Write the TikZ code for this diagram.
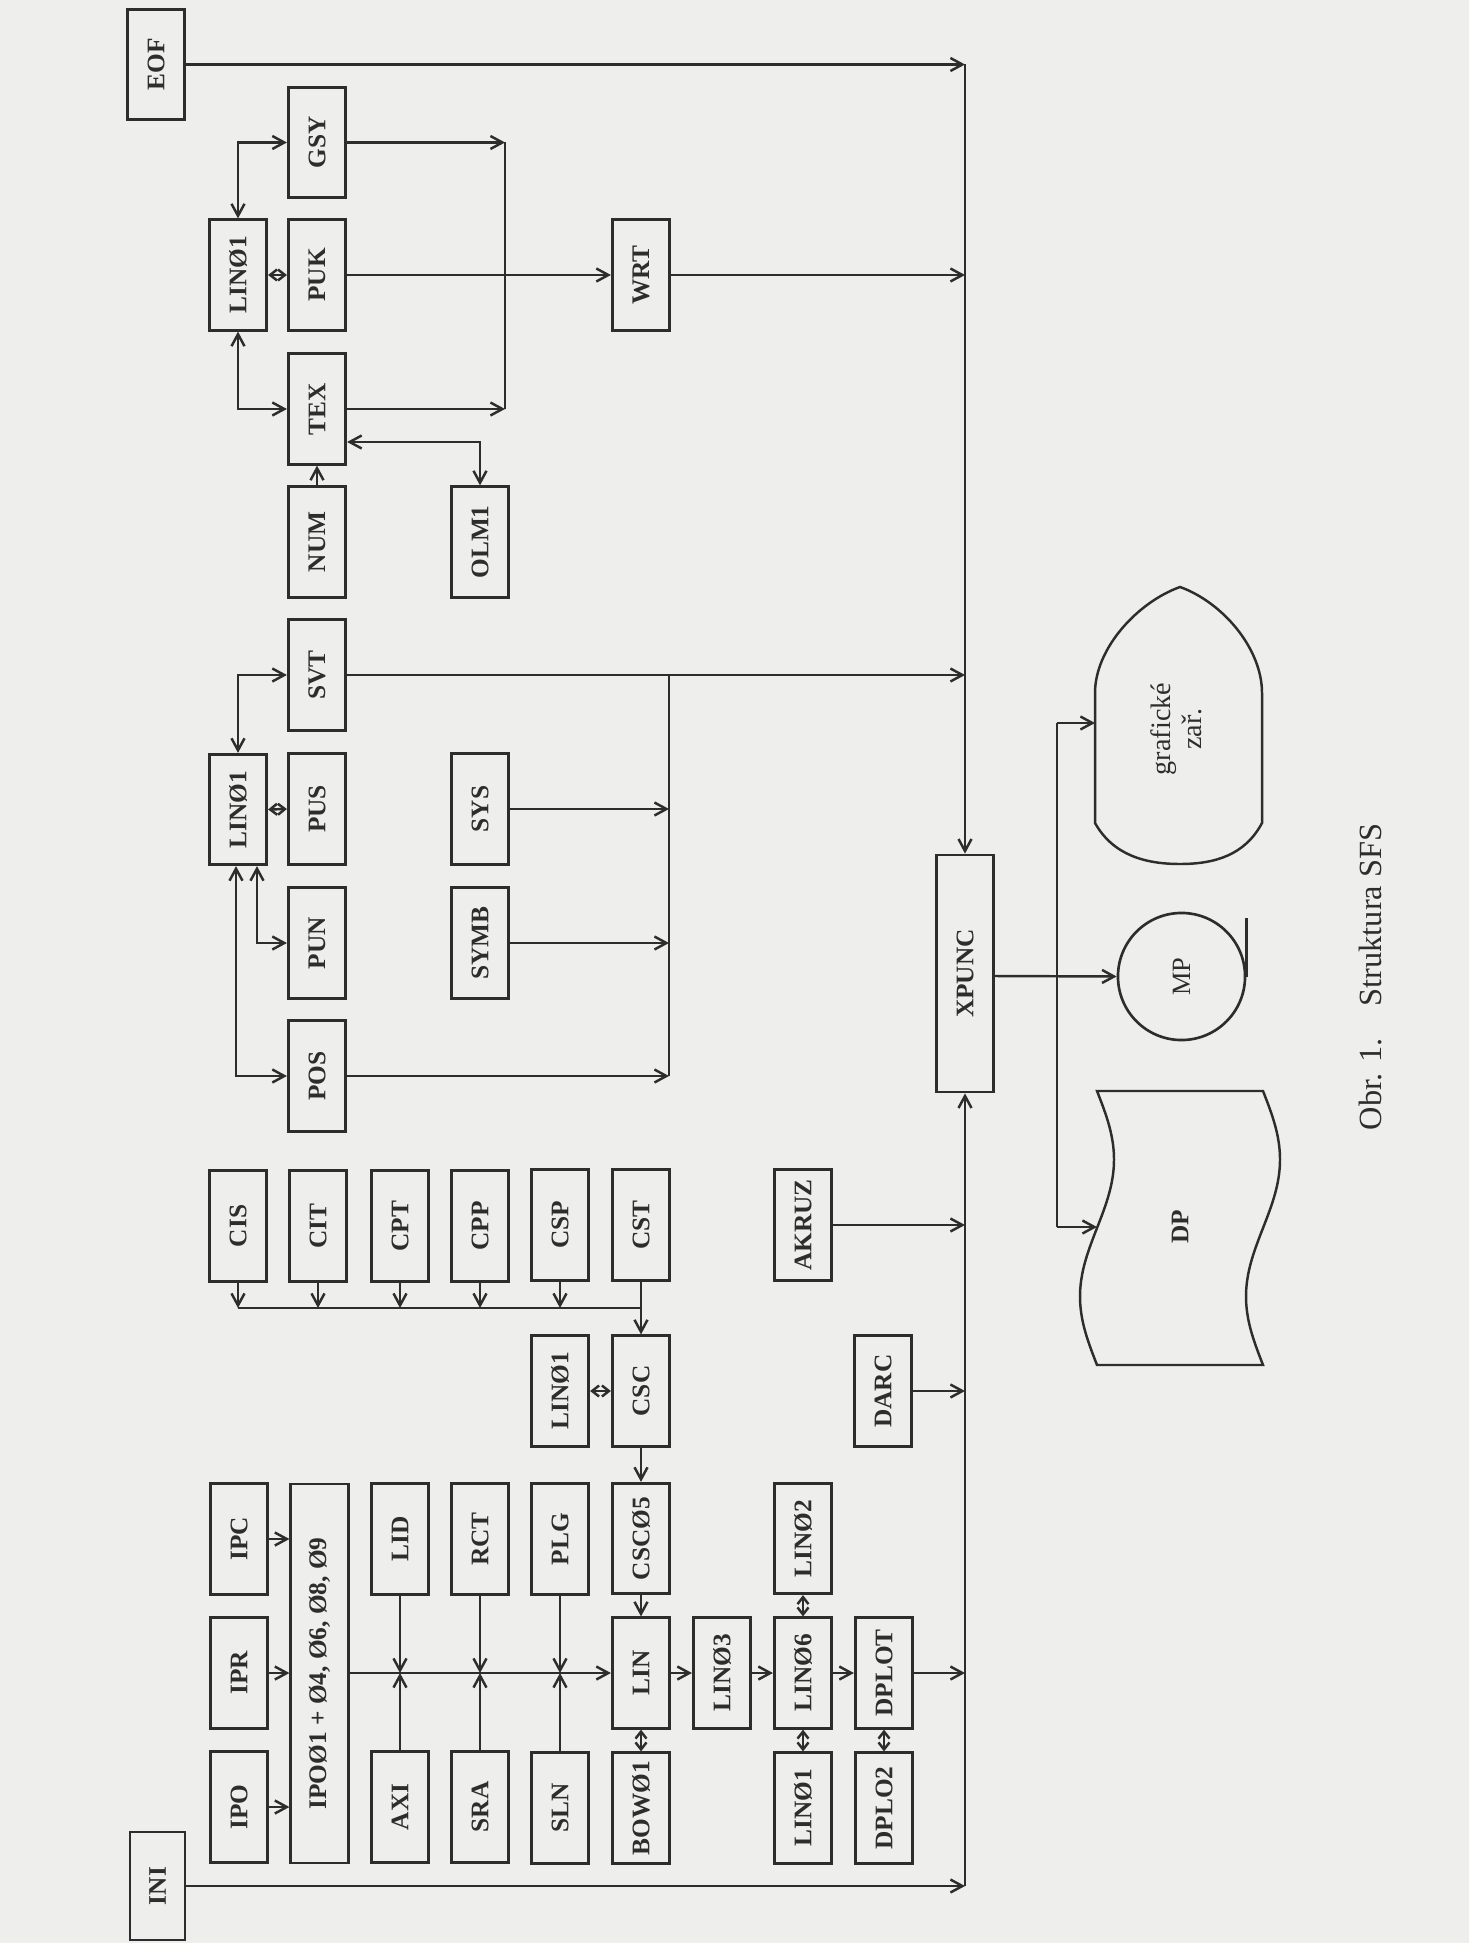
\documentclass[tikz,border=0pt]{standalone}
\usepackage{fontspec}
\setmainfont{Liberation Serif}
\usetikzlibrary{arrows.meta,calc}
\definecolor{ink}{RGB}{45,45,45}
\definecolor{paper}{RGB}{238,238,236}
\begin{document}
\begin{tikzpicture}[x=0.01cm,y=-0.01cm,
  box/.style={draw=ink,line width=0.75pt,minimum width=0.575cm,minimum height=1.105cm,inner sep=0pt,
    font=\fontsize{7.2}{8}\selectfont\bfseries,text=ink},
  lbl/.style={inner sep=0pt,font=\fontsize{7.2}{8}\selectfont\bfseries,text=ink},
  ln/.style={draw=ink,line width=0.7pt},
  arr/.style={ln,-{Straight Barb[length=1.2mm,width=1.3mm]}},
  darr/.style={ln,{Straight Barb[length=1.2mm,width=1.3mm]}-{Straight Barb[length=1.2mm,width=1.3mm]}},
  sdarr/.style={ln,{Straight Barb[length=0.7mm,width=1.1mm]}-{Straight Barb[length=0.7mm,width=1.1mm]}}]
\fill[paper] (0,0) rectangle (1469,1943);
\useasboundingbox (0,0) rectangle (1469,1943);

% ---- boxes ----
\node[box] (EOF) at (156,64.5) {\rotatebox{90}{EOF}};
\node[box] (GSY) at (317,142.5) {\rotatebox{90}{GSY}};
\node[box] (LINa) at (238,275) {\rotatebox{90}{LINØ1}};
\node[box] (PUK) at (317,275) {\rotatebox{90}{PUK}};
\node[box] (WRT) at (641,275) {\rotatebox{90}{WRT}};
\node[box] (TEX) at (317,409) {\rotatebox{90}{TEX}};
\node[box] (NUM) at (317,542) {\rotatebox{90}{NUM}};
\node[box] (OLM) at (480,542) {\rotatebox{90}{OLM1}};
\node[box] (SVT) at (317,675) {\rotatebox{90}{SVT}};
\node[box] (LINb) at (238,809.5) {\rotatebox{90}{LINØ1}};
\node[box] (PUS) at (317,809) {\rotatebox{90}{PUS}};
\node[box] (SYS) at (480,809) {\rotatebox{90}{SYS}};
\node[box] (PUN) at (317,943) {\rotatebox{90}{PUN}};
\node[box] (SYMB) at (480,943) {\rotatebox{90}{SYMB}};
\node[box] (POS) at (317,1076) {\rotatebox{90}{POS}};
\node[box] (CIS) at (238,1226) {\rotatebox{90}{CIS}};
\node[box] (CIT) at (318,1226) {\rotatebox{90}{CIT}};
\node[box] (CPT) at (400,1226) {\rotatebox{90}{CPT}};
\node[box] (CPP) at (480,1226) {\rotatebox{90}{CPP}};
\node[box] (CSP) at (560,1225) {\rotatebox{90}{CSP}};
\node[box] (CST) at (641,1225) {\rotatebox{90}{CST}};
\node[box] (AKRUZ) at (803,1225) {\rotatebox{90}{AKRUZ}};
\node[box] (LINc) at (560,1391) {\rotatebox{90}{LINØ1}};
\node[box] (CSC) at (641,1391) {\rotatebox{90}{CSC}};
\node[box] (DARC) at (883,1391) {\rotatebox{90}{DARC}};
\node[box,minimum height=2.37cm] (XPUNC) at (965,973.5) {\rotatebox{90}{XPUNC}};
\node[box] (IPC) at (239,1539) {\rotatebox{90}{IPC}};
\node[box] (IPR) at (239,1673) {\rotatebox{90}{IPR}};
\node[box] (IPO) at (239,1807) {\rotatebox{90}{IPO}};
\node[box,minimum height=3.79cm] (IPOX) at (319.5,1673.5) {\rotatebox{90}{IPOØ1 + Ø4, Ø6, Ø8, Ø9}};
\node[box] (LID) at (400,1539) {\rotatebox{90}{LID}};
\node[box] (AXI) at (400,1807) {\rotatebox{90}{AXI}};
\node[box] (RCT) at (480,1539) {\rotatebox{90}{RCT}};
\node[box] (SRA) at (480,1807) {\rotatebox{90}{SRA}};
\node[box] (PLG) at (560,1539) {\rotatebox{90}{PLG}};
\node[box] (SLN) at (560,1808) {\rotatebox{90}{SLN}};
\node[box] (CSC5) at (641,1538.5) {\rotatebox{90}{CSCØ5}};
\node[box] (LIN) at (641,1673) {\rotatebox{90}{LIN}};
\node[box] (BOW) at (641,1808) {\rotatebox{90}{BOWØ1}};
\node[box] (L3) at (722,1673) {\rotatebox{90}{LINØ3}};
\node[box] (L2) at (803,1538.5) {\rotatebox{90}{LINØ2}};
\node[box] (L6) at (803,1673) {\rotatebox{90}{LINØ6}};
\node[box] (L1d) at (803,1808) {\rotatebox{90}{LINØ1}};
\node[box] (DPLOT) at (884,1673) {\rotatebox{90}{DPLOT}};
\node[box] (DPLO2) at (884,1808) {\rotatebox{90}{DPLO2}};
\node[box,minimum width=0.55cm,minimum height=1.08cm] (INI) at (157.5,1886) {\rotatebox{90}{INI}};

% ---- output devices ----
\node[circle,draw=ink,line width=0.75pt,minimum size=1.27cm,inner sep=0pt,
  font=\fontsize{7.5}{8}\selectfont,text=ink] (MP) at (1181.5,976.5) {\rotatebox{90}{MP}};
\draw[ln] (MP.east) -- ++(0,-59);
\draw[ln] (1095,823) -- (1095,693) .. controls (1095,648) and (1138,602) .. (1180,587)
  .. controls (1222,602) and (1262,648) .. (1262,693) -- (1262,823)
  .. controls (1245,855) and (1215,864) .. (1180,864)
  .. controls (1145,864) and (1113,855) .. (1095,823) -- cycle;
\node[inner sep=0pt,font=\fontsize{8}{8.8}\selectfont,text=ink] (GRAF) at (1180,729)
  {\rotatebox{90}{\begin{tabular}{@{}c@{}}grafické\\zař.\end{tabular}}};
\draw[ln] (1097,1091) -- (1263,1091)
  -- plot[smooth,domain=0:360,samples=37,variable=\t] ({1263+17*sin(\t)},{1091+0.76111*\t})
  -- (1097,1365)
  -- plot[smooth,domain=360:0,samples=37,variable=\t] ({1097+17*sin(\t)},{1091+0.76111*\t})
  -- cycle;
\node[lbl] (DP) at (1180,1227) {\rotatebox{90}{DP}};
\node[inner sep=0pt,font=\fontsize{9.2}{10}\selectfont,text=ink] (CAP) at (1370,977)
  {\rotatebox{90}{Obr. 1.\quad Struktura SFS}};

% ---- bus coordinates ----
\coordinate (bT) at (965,64.5);
\coordinate (bB) at (965,1886);
\coordinate (g1) at (505,142.5);
\coordinate (o1) at (480,442);
\coordinate (s1) at (669,675);
\coordinate (cb) at (641,1308);
\coordinate (xo) at (1057,976);
\coordinate (gin) at (1095,723);
\coordinate (din) at (1097,1227);

% ---- connectors: top part ----
\draw[arr] (EOF.east) -- (bT);
\draw[arr] (bT) -- (XPUNC.north);
\draw[arr] (GSY.east) -- (GSY.east -| g1);
\draw[arr] (TEX.east) -- (TEX.east -| g1);
\draw[ln] (GSY.east -| g1) -- (TEX.east -| g1);
\draw[arr] (PUK.east) -- (WRT.west);
\draw[arr] (WRT.east) -- (WRT.east -| bT);
\draw[darr] (LINa.north) |- (GSY.west);
\draw[sdarr] (LINa.east) -- (PUK.west);
\draw[darr] (LINa.south) |- (TEX.west);
\draw[arr] (NUM.north) -- (TEX.south);
\draw[darr] (o1 -| TEX.east) -| (OLM.north);
\draw[arr] (SVT.east) -- (SVT.east -| bT);
\draw[ln] (s1) -- (POS.east -| s1);
\draw[arr] (SYS.east) -- (SYS.east -| s1);
\draw[arr] (SYMB.east) -- (SYMB.east -| s1);
\draw[arr] (POS.east) -- (POS.east -| s1);
\draw[darr] (LINb.north) |- (SVT.west);
\draw[sdarr] (LINb.east) -- (PUS.west);
\draw[darr] ($(LINb.south)+(-2,0)$) |- (POS.west);
\draw[darr] ($(LINb.south)+(19,0)$) |- (PUN.west);

% ---- middle ----
\draw[arr] (CIS.south) -- (CIS.south |- cb);
\draw[arr] (CIT.south) -- (CIT.south |- cb);
\draw[arr] (CPT.south) -- (CPT.south |- cb);
\draw[arr] (CPP.south) -- (CPP.south |- cb);
\draw[arr] (CSP.south) -- (CSP.south |- cb);
\draw[ln] (CIS.south |- cb) -- (cb);
\draw[arr] (CST.south) -- (CSC.north);
\draw[sdarr] (LINc.east) -- (CSC.west);
\draw[arr] (CSC.south) -- (CSC5.north);
\draw[arr] (CSC5.south) -- (LIN.north);
\draw[sdarr] (LIN.south) -- (BOW.north);
\draw[arr] (AKRUZ.east) -- (AKRUZ.east -| bB);
\draw[arr] (DARC.east) -- (DARC.east -| bB);

% ---- bottom ----
\draw[arr] (IPC.east) -- (IPC.east -| IPOX.west);
\draw[arr] (IPR.east) -- (IPR.east -| IPOX.west);
\draw[arr] (IPO.east) -- (IPO.east -| IPOX.west);
\draw[arr] (IPOX.east |- LIN.west) -- (LIN.west);
\draw[arr] (LID.south) -- (LID.south |- LIN.west);
\draw[arr] (AXI.north) -- (AXI.north |- LIN.west);
\draw[arr] (RCT.south) -- (RCT.south |- LIN.west);
\draw[arr] (SRA.north) -- (SRA.north |- LIN.west);
\draw[arr] (PLG.south) -- (PLG.south |- LIN.west);
\draw[arr] (SLN.north) -- (SLN.north |- LIN.west);
\draw[arr] (LIN.east) -- (L3.west);
\draw[arr] (L3.east) -- (L6.west);
\draw[arr] (L6.east) -- (DPLOT.west);
\draw[arr] (DPLOT.east) -- (DPLOT.east -| bB);
\draw[sdarr] (L2.south) -- (L6.north);
\draw[sdarr] (L6.south) -- (L1d.north);
\draw[sdarr] (DPLOT.south) -- (DPLO2.north);
\draw[arr] (INI.east) -- (bB);
\draw[arr] (bB) -- (XPUNC.south);

% ---- XPUNC outputs ----
\draw[arr] (XPUNC.east |- xo) -- (MP.west);
\draw[ln] (xo |- gin) -- (xo |- din);
\draw[arr] (xo |- gin) -- (gin);
\draw[arr] (xo |- din) -- (din);
\end{tikzpicture}
\end{document}
